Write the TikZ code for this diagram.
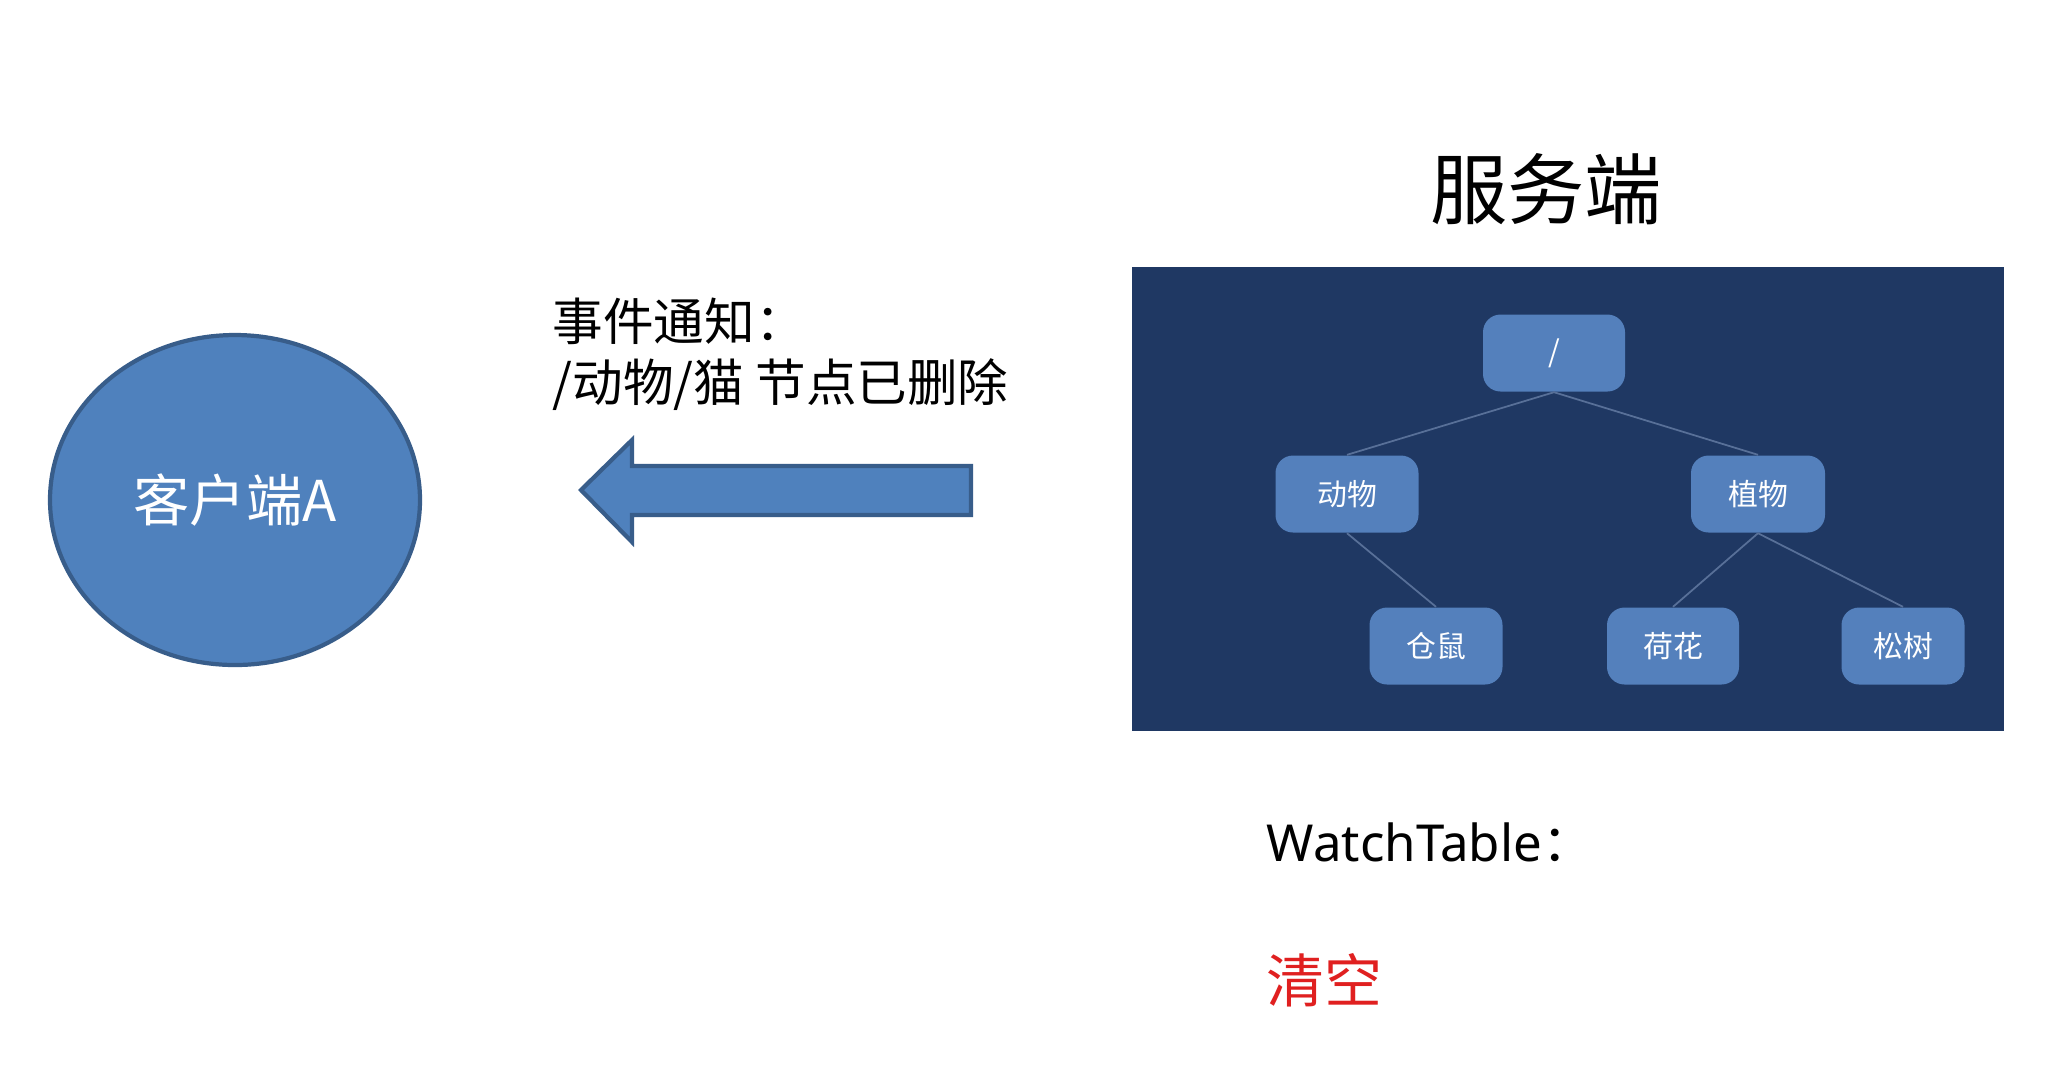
\documentclass[tikz,border=0pt]{standalone}
\usepackage{fontspec}
\setmainfont{Noto Sans}
\newfontfamily\cjk{Noto Sans CJK SC}
\usetikzlibrary{shapes.geometric}
\definecolor{nodeblue}{RGB}{79,129,189}
\definecolor{nodeborder}{RGB}{56,93,138}
\definecolor{panel}{RGB}{31,56,99}
\definecolor{treebox}{RGB}{84,128,188}
\definecolor{treeline}{RGB}{88,112,152}
\definecolor{alertred}{RGB}{224,32,32}
\tikzset{
  treenode/.style={fill=treebox, rounded corners=5pt, minimum height=0.77cm, text=white, font=\cjk\fontsize{8.5}{10}\selectfont, inner sep=0pt},
  treeedge/.style={draw=treeline, line width=0.5pt},
  cjktext/.style={font=\cjk\fontsize{14.4}{18}\selectfont, inner sep=0pt, text=black}
}
\begin{document}
\begin{tikzpicture}[x=1cm,y=-1cm]
\useasboundingbox (0,0) rectangle (20.72,10.84);
\fill[white] (0,0) rectangle (20.72,10.84);

% client
\node[ellipse, draw=nodeborder, line width=1.2pt, fill=nodeblue, minimum width=3.7cm, minimum height=3.3cm, text=white, font=\cjk\fontsize{16}{19}\selectfont] (client) at (2.35,5.00) {客户端A};

% arrow
\draw[fill=nodeblue, draw=nodeborder, line width=1.2pt]
  (5.81,4.90) -- (6.32,4.40) -- (6.32,4.66) -- (9.71,4.66) -- (9.71,5.15) -- (6.32,5.15) -- (6.32,5.42) -- cycle;

% event text
\node[cjktext, anchor=west] (ev1) at (5.52,3.21) {事件通知：};
\node[cjktext, anchor=west] (ev2) at (5.52,3.85) {/动物/猫 节点已删除};

% server title
\node[font=\cjk\fontsize{22}{26}\selectfont, inner sep=0pt] (server) at (15.46,1.89) {服务端};

% panel
\fill[panel] (11.32,2.67) rectangle (20.04,7.31);

% tree
\node[treenode, minimum width=1.42cm] (root) at (15.54,3.53) {/};
\node[treenode, minimum width=1.43cm] (animal) at (13.47,4.94) {动物};
\node[treenode, minimum width=1.34cm] (plant) at (17.58,4.94) {植物};
\node[treenode, minimum width=1.33cm] (hamster) at (14.36,6.46) {仓鼠};
\node[treenode, minimum width=1.32cm] (lotus) at (16.73,6.46) {荷花};
\node[treenode, minimum width=1.23cm] (pine) at (19.03,6.46) {松树};
\draw[treeedge] (root.south) -- (animal.north);
\draw[treeedge] (root.south) -- (plant.north);
\draw[treeedge] (animal.south) -- (hamster.north);
\draw[treeedge] (plant.south) -- (lotus.north);
\draw[treeedge] (plant.south) -- (pine.north);

% watch table
\node[anchor=west, inner sep=0pt, font=\fontsize{14.5}{17}\selectfont] (wt) at (12.66,8.42) {WatchTable{\cjk ：}};
\node[anchor=west, inner sep=0pt, text=alertred, font=\cjk\fontsize{16.5}{20}\selectfont] (clear) at (12.66,9.80) {清空};
\end{tikzpicture}
\end{document}
